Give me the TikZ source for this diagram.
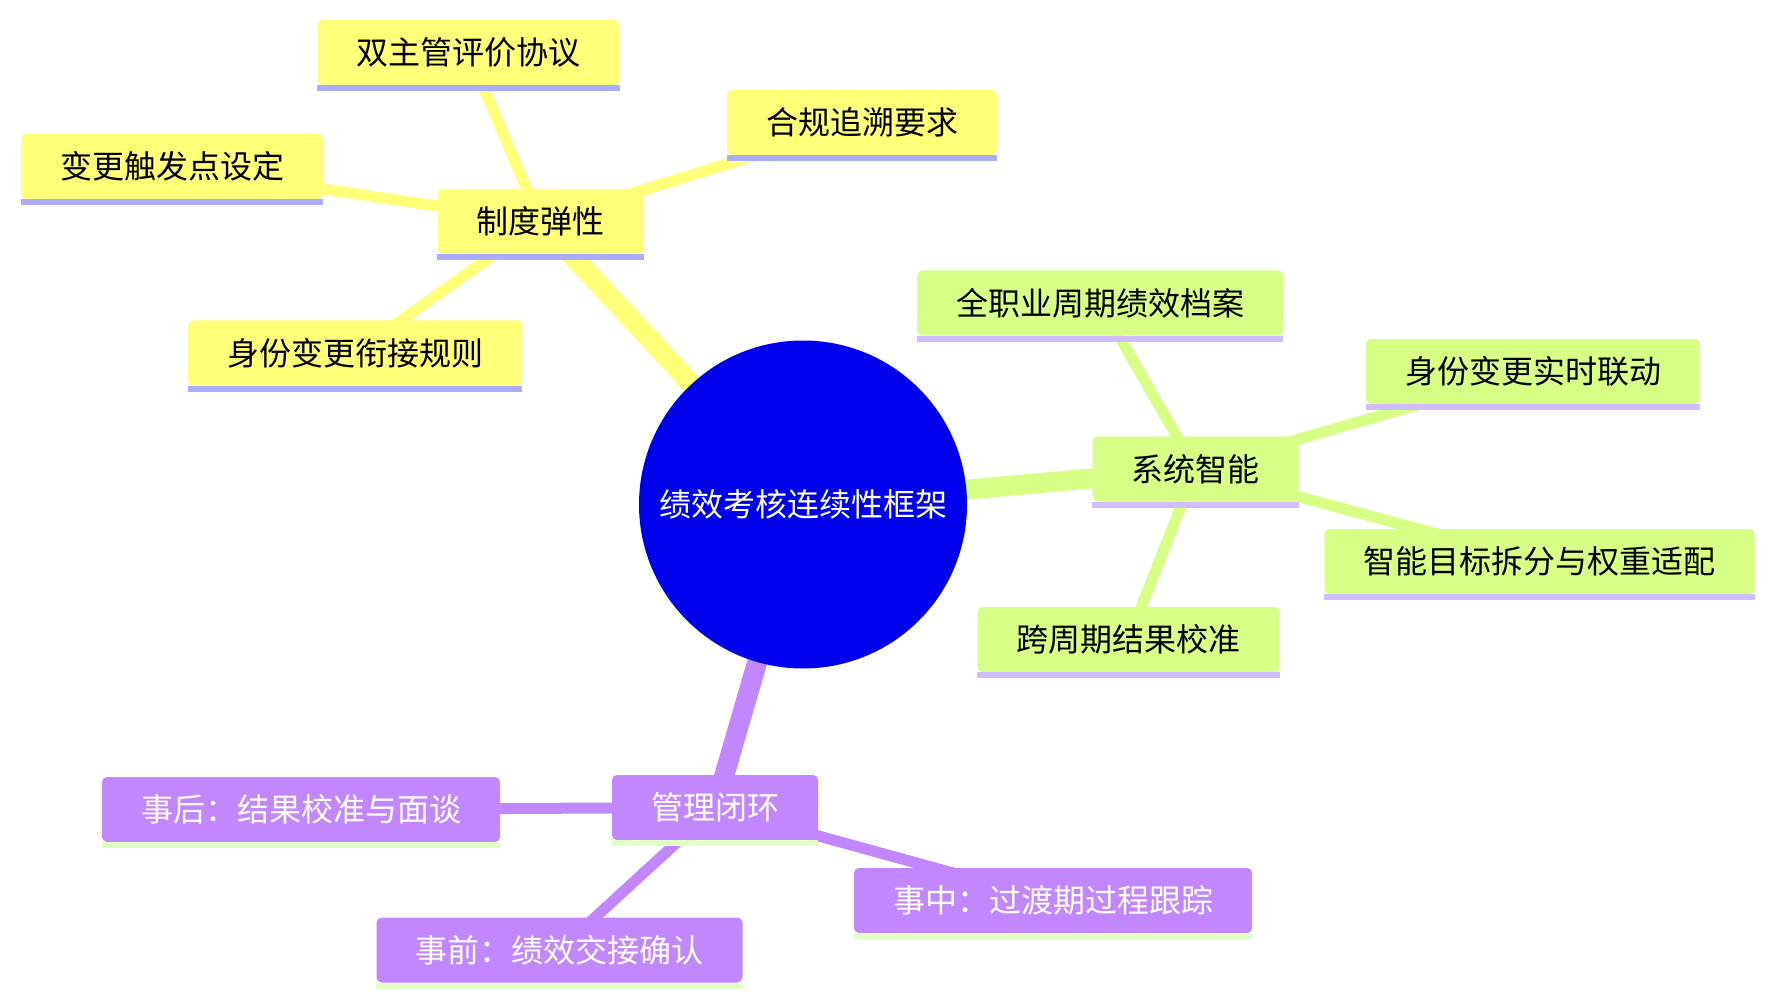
\documentclass[tikz,border=0pt]{standalone}
\usepackage{fontspec}
\setmainfont{Noto Sans CJK SC}
\definecolor{rootblue}{HTML}{0000EC}
\definecolor{secy}{HTML}{FFFF78}
\definecolor{secg}{HTML}{D7FF86}
\definecolor{secp}{HTML}{C286FF}
\definecolor{bary}{HTML}{ACACFF}
\definecolor{barg}{HTML}{D0BCFF}
\definecolor{barp}{HTML}{E0FFC4}
\pgfdeclarelayer{bg}
\pgfsetlayers{bg,main}

\begin{document}
\begin{tikzpicture}[x=0.5pt, y=-0.5pt,
  topic/.style={rounded corners=2.5pt, inner xsep=19.5pt, inner ysep=0pt, minimum height=32.5pt, font=\fontsize{16pt}{19pt}\selectfont},
  ybox/.style={topic, fill=secy},
  gbox/.style={topic, fill=secg},
  pbox/.style={topic, fill=secp, text=white},
  trunk/.style={line width=10pt},
  twig/.style={line width=5.5pt}]
\useasboundingbox (0,0) rectangle (1775,1005);

\node[circle, fill=rootblue, text=white, minimum size=164pt, inner sep=0pt, font=\fontsize{16pt}{19pt}\selectfont] (root) at (803,504.5) {绩效考核连续性框架};

% yellow branch
\node[ybox] (zd) at (540.5,221.5) {制度弹性};
\node[ybox] (sz) at (468.5,52.5) {双主管评价协议};
\node[ybox] (hg) at (862,122.5) {合规追溯要求};
\node[ybox] (bg) at (172,166.5) {变更触发点设定};
\node[ybox] (sf) at (355,353) {身份变更衔接规则};

% green branch
\node[gbox] (xt) at (1195.5,469) {系统智能};
\node[gbox] (qz) at (1100,303) {全职业周期绩效档案};
\node[gbox] (ld) at (1533,371.5) {身份变更实时联动};
\node[gbox] (mb) at (1539.5,561.5) {智能目标拆分与权重适配};
\node[gbox] (kz) at (1128.5,639.5) {跨周期结果校准};

% purple branch
\node[pbox] (gl) at (715,807.5) {管理闭环};
\node[pbox] (sh) at (301,809.5) {事后：结果校准与面谈};
\node[pbox] (szh) at (1053,900.5) {事中：过渡期过程跟踪};
\node[pbox] (sq) at (559.5,950) {事前：绩效交接确认};

% underline bars
\foreach \n in {zd,sz,hg,bg,sf}
  \fill[bary] (\n.south west) rectangle ([yshift=-3pt]\n.south east);
\foreach \n in {xt,qz,ld,mb,kz}
  \fill[barg] (\n.south west) rectangle ([yshift=-3pt]\n.south east);
\foreach \n in {gl,sh,szh,sq}
  \fill[barp] (\n.south west) rectangle ([yshift=-3pt]\n.south east);

\begin{pgfonlayer}{bg}
\draw[trunk, secy] (root.center) -- (zd.center);
\draw[trunk, secg] (root.center) -- (xt.center);
\draw[trunk, secp] (root.center) -- (gl.center);
\foreach \n in {sz,hg,bg,sf}
  \draw[twig, secy] (zd.center) -- (\n.center);
\foreach \n in {qz,ld,mb,kz}
  \draw[twig, secg] (xt.center) -- (\n.center);
\foreach \n in {sh,szh,sq}
  \draw[twig, secp] (gl.center) -- (\n.center);
\end{pgfonlayer}
\end{tikzpicture}
\end{document}
